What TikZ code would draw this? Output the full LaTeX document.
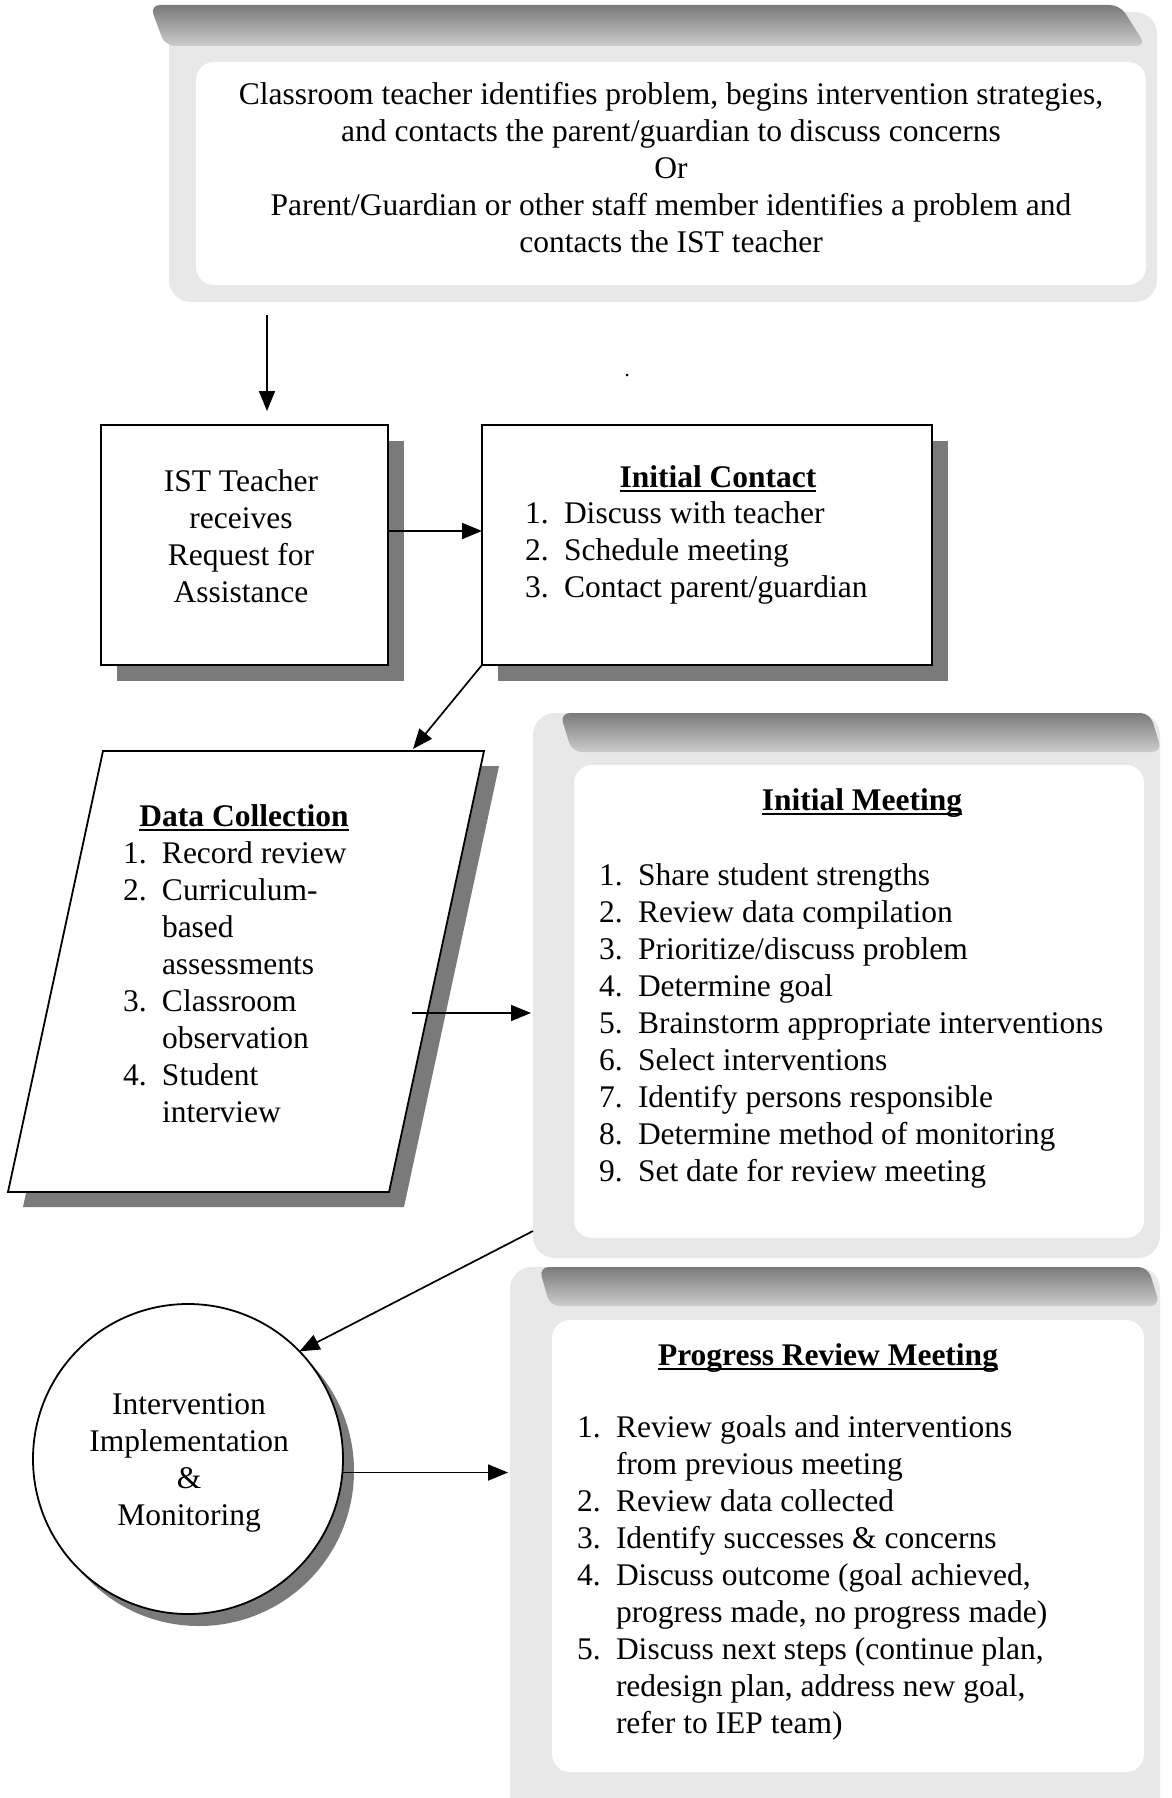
\documentclass[tikz,border=0pt]{standalone}
\usepackage{fontspec}
\setmainfont{Liberation Serif}
\usetikzlibrary{arrows.meta,calc}
\newcommand{\uttl}[1]{\setbox0\hbox{\bfseries #1}\leavevmode\rlap{\rule[-4.5pt]{\wd0}{2.4pt}}\box0}
\newcommand{\itm}[2]{\makebox[39pt][l]{#1}#2}
\newcommand{\cnt}[1]{\hspace*{39pt}#1}
\begin{document}
\begin{tikzpicture}[x=1pt,y=-1pt,
  every node/.style={font=\fontsize{31.5}{37}\selectfont, inner sep=0pt, outer sep=0pt},
  arr/.style={-{Triangle[length=20pt,width=16pt]}, line width=1.7pt},
  box/.style={draw, line width=1.8pt, fill=white},
  shad/.style={fill=black!52},
  grain/.style={fill=black!9},
  band/.style={top color=black!52, bottom color=black!20, draw=none},
]
\useasboundingbox[fill=white] (0,0) rectangle (1171,1798);

% ---- top box
\node[grain, rounded corners=22pt, minimum width=988, minimum height=290] (top) at (663,157) {};
\path[band, rounded corners=10pt] (150,5) -- (1120,5) -- (1146,46) -- (165,46) -- cycle;
\path[fill=white, rounded corners=18pt] (196,62) rectangle (1146,285);
\node[align=center] (toptxt) at (671,168) {Classroom teacher identifies problem, begins intervention strategies,\\ and contacts the parent/guardian to discuss concerns\\ Or\\ Parent/Guardian or other staff member identifies a problem and\\ contacts the IST teacher};

\fill (627,375) circle (1.5);

% ---- IST box
\fill[shad] (117,441) rectangle (404,681);
\node[box, minimum width=287, minimum height=240] (ist) at (244.5,545) {};
\node[align=center] (isttxt) at (241,536) {IST Teacher\\ receives\\ Request for\\ Assistance};

% ---- Initial contact
\fill[shad] (498,441) rectangle (948,681);
\node[box, minimum width=450, minimum height=240] (ic) at (707,545) {};
\node (ictitle) at (718,479) {\uttl{Initial Contact}};
\node[anchor=west, align=left] (iclist) at (525,553) {\itm{1.}{Discuss with teacher}\\ \itm{2.}{Schedule meeting}\\ \itm{3.}{Contact parent/guardian}};

% ---- Data collection
\coordinate (dTL) at (103,751);
\coordinate (dTR) at (484,751);
\coordinate (dBR) at (389,1192);
\coordinate (dBL) at (8,1192);
\fill[shad] ([shift={(15,15)}]dTL) -- ([shift={(15,15)}]dTR) -- ([shift={(15,15)}]dBR) -- ([shift={(15,15)}]dBL) -- cycle;
\draw[line width=1.8pt, fill=white] (dTL) -- (dTR) -- (dBR) -- (dBL) -- cycle;
\node (dtitle) at (244,818) {\uttl{Data Collection}};
\node[anchor=west, align=left] (dlist) at (123,982) {\itm{1.}{Record review}\\ \itm{2.}{Curriculum-}\\ \cnt{based}\\ \cnt{assessments}\\ \itm{3.}{Classroom}\\ \cnt{observation}\\ \itm{4.}{Student}\\ \cnt{interview}};

% ---- Initial meeting
\node[grain, rounded corners=22pt, minimum width=627, minimum height=545] (im) at (846.5,985.5) {};
\path[band, rounded corners=10pt] (560,713) -- (1150,713) -- (1162,752) -- (572,752) -- cycle;
\path[fill=white, rounded corners=18pt] (574,765) rectangle (1144,1238);
\node (imtitle) at (862,803) {\uttl{Initial Meeting}};
\node[anchor=west, align=left] (imlist) at (599,1026) {\itm{1.}{Share student strengths}\\ \itm{2.}{Review data compilation}\\ \itm{3.}{Prioritize/discuss problem}\\ \itm{4.}{Determine goal}\\ \itm{5.}{Brainstorm appropriate interventions}\\ \itm{6.}{Select interventions}\\ \itm{7.}{Identify persons responsible}\\ \itm{8.}{Determine method of monitoring}\\ \itm{9.}{Set date for review meeting}};

% ---- Circle
\fill[shad] (199,1471) circle (155);
\node[circle, draw, line width=1.8pt, fill=white, minimum size=310] (circ) at (188,1459) {};
\node[align=center] (circtxt) at (189,1463) {Intervention\\ Implementation\\ \&\\ Monitoring};

% ---- Progress review
\node[grain, rounded corners=22pt, minimum width=650, minimum height=553] (pr) at (835,1543.5) {};
\path[band, rounded corners=10pt] (539,1267) -- (1148,1267) -- (1160,1306) -- (550,1306) -- cycle;
\path[fill=white, rounded corners=18pt] (552,1320) rectangle (1144,1772);
\node (prtitle) at (828,1358) {\uttl{Progress Review Meeting}};
\node[anchor=west, align=left] (prlist) at (577,1578) {\itm{1.}{Review goals and interventions}\\ \cnt{from previous meeting}\\ \itm{2.}{Review data collected}\\ \itm{3.}{Identify successes \& concerns}\\ \itm{4.}{Discuss outcome (goal achieved,}\\ \cnt{progress made, no progress made)}\\ \itm{5.}{Discuss next steps (continue plan,}\\ \cnt{redesign plan, address new goal,}\\ \cnt{refer to IEP team)}};

% ---- connectors
\coordinate (a1) at (267,315);
\draw[arr, shorten >=14pt] (a1) -- (a1 |- ist.north);
\draw[arr] ([yshift=14pt]ist.east) -- ([yshift=14pt]ic.west);
\coordinate (dtip) at (413,749);
\draw[arr] (ic.south west) -- (dtip);
\coordinate (dout) at (412,1013);
\draw[arr, shorten >=2pt] (dout) -- (dout -| im.west);
\coordinate (imout) at (533,1231);
\draw[arr] (imout) -- (circ.44);
\draw[arr, shorten >=2pt] (circ.-5) -- (circ.-5 -| pr.west);
\end{tikzpicture}
\end{document}
